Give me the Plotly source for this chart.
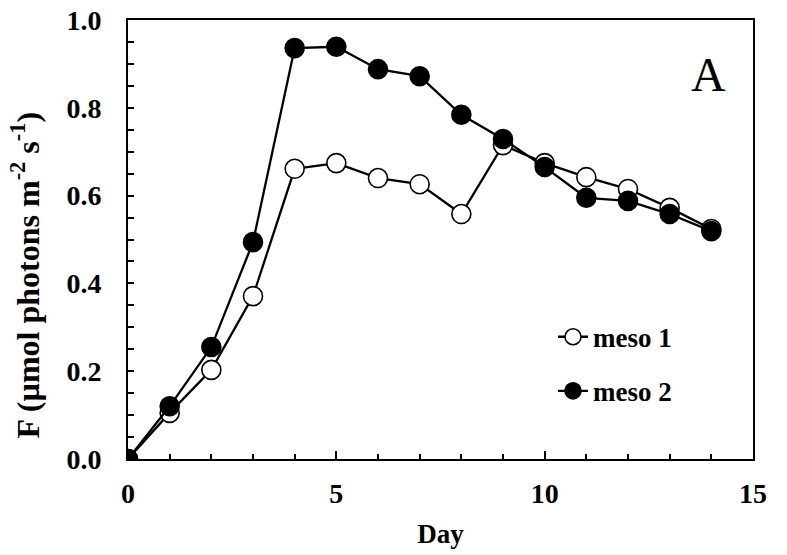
import plotly.graph_objects as go

days = list(range(15))
meso1 = [0.0, 0.105, 0.203, 0.371, 0.661, 0.674, 0.640, 0.626, 0.558, 0.715, 0.674, 0.642, 0.615, 0.572, 0.524]
meso2 = [0.0, 0.120, 0.255, 0.494, 0.936, 0.939, 0.888, 0.872, 0.784, 0.729, 0.665, 0.595, 0.588, 0.558, 0.519]
series_names = ["meso 1", "meso 2"]
x_ticks = [0, 5, 10, 15]
y_ticks = [0.0, 0.2, 0.4, 0.6, 0.8, 1.0]

FONT = "Liberation Serif"

fig = go.Figure()
fig.add_trace(go.Scatter(x=days, y=meso1, mode="lines+markers", name=series_names[0],
                         legendgroup="g1",
                         line=dict(color="black", width=2.3),
                         marker=dict(symbol="circle", size=19, color="white",
                                     line=dict(color="black", width=1.6))))
fig.add_trace(go.Scatter(x=days, y=meso2, mode="lines+markers", name=series_names[1],
                         legendgroup="g2",
                         line=dict(color="black", width=2.3),
                         marker=dict(symbol="circle", size=19, color="black",
                                     line=dict(color="black", width=1.6))))

fig.update_layout(
    width=787, height=555,
    margin=dict(l=128, r=34, t=20, b=96, autoexpand=False),
    paper_bgcolor="white", plot_bgcolor="white",
    font=dict(family=FONT, color="black"),
    showlegend=True,
    legend=dict(x=0.68, y=0.216, xanchor="left", yanchor="middle",
                font=dict(family=FONT, size=27, color="black", weight="bold"),
                bgcolor="rgba(0,0,0,0)", itemsizing="trace",
                traceorder="grouped", tracegroupgap=16),
    annotations=[
        dict(text="A", x=13.92, y=0.875, xref="x", yref="y",
             showarrow=False, font=dict(family=FONT, size=48, color="black")),
        dict(text="F (µmol photons m<sup>-2</sup> s<sup>-1</sup>)", textangle=-90,
             x=-0.165, y=0.42, xref="paper", yref="paper", xanchor="center", yanchor="middle",
             showarrow=False, font=dict(family=FONT, size=32, color="black", weight="bold")),
    ],
)

fig.update_xaxes(
    range=[0, 15], tickmode="array", tickvals=x_ticks, ticktext=[str(v) for v in x_ticks],
    ticks="inside", ticklen=8, tickwidth=1.5, tickcolor="black",
    minor=dict(ticks="inside", dtick=1, ticklen=5, tickwidth=1.5, tickcolor="black"),
    showline=True, linecolor="black", linewidth=2, mirror=True,
    showgrid=False, zeroline=False, automargin=False,
    tickfont=dict(family=FONT, size=28, color="black", weight="bold"),
    ticklabelstandoff=8,
    title=dict(text="Day", font=dict(family=FONT, size=27, color="black", weight="bold"), standoff=17),
)
fig.update_yaxes(
    range=[0, 1.0], tickmode="array", tickvals=y_ticks, ticktext=[f"{v:.1f}" for v in y_ticks],
    ticks="inside", ticklen=6, tickwidth=1.5, tickcolor="black",
    minor=dict(ticks="inside", dtick=0.05, ticklen=6, tickwidth=1.5, tickcolor="black"),
    showline=True, linecolor="black", linewidth=2, mirror=True,
    showgrid=False, zeroline=False, automargin=False,
    tickfont=dict(family=FONT, size=28, color="black", weight="bold"),
    ticklabelstandoff=19,
)

fig.write_html("out.html")
